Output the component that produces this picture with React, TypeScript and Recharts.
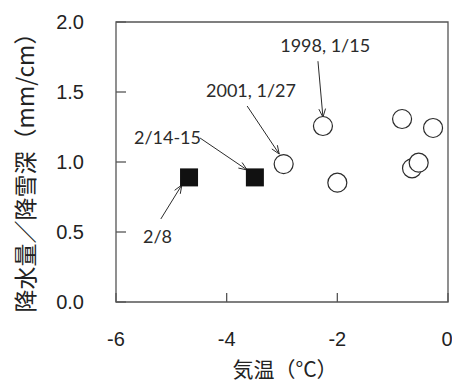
import React from "react";
import {
  ScatterChart,
  Scatter,
  XAxis,
  YAxis,
  ReferenceArea,
  ReferenceLine,
  ReferenceDot,
} from "recharts";

// 気温 (°C) vs 降水量/降雪深 (mm/cm)
const closedTemp = [-4.68, -3.49];
const closedRatio = [0.89, 0.89];

const openTemp = [-2.97, -2.26, -2.0, -0.83, -0.27, -0.65, -0.53];
const openRatio = [0.985, 1.257, 0.852, 1.307, 1.243, 0.955, 0.995];

const xTicks = [-6, -4, -2, 0];
const yTicks = [0, 0.5, 1.0, 1.5, 2.0];

// annotation labels (data coords of text centre)
const noteText = ["1998, 1/15", "2001, 1/27", "2/14-15", "2/8"];
const noteX = [-2.22, -3.56, -5.07, -5.25];
const noteY = [1.839, 1.511, 1.179, 0.471];

// arrows: from -> to
const arrowFrom = [
  { x: -2.35, y: 1.72 },
  { x: -3.63, y: 1.4 },
  { x: -4.48, y: 1.171 },
  { x: -5.19, y: 0.593 },
];
const arrowTo = [
  { x: -2.26, y: 1.32 },
  { x: -3.05, y: 1.057 },
  { x: -3.63, y: 0.943 },
  { x: -4.81, y: 0.836 },
];

const closedData = closedTemp.map((t, i) => ({ t, r: closedRatio[i] }));
const openData = openTemp.map((t, i) => ({ t, r: openRatio[i] }));

const INK = "#2b2b2b";
const FRAME = "#555";

const Square = (p: any) => (
  <rect x={p.cx - 9} y={p.cy - 9} width={18} height={18} fill="#111" />
);

const Ring = (p: any) => (
  <circle cx={p.cx} cy={p.cy} r={9.5} fill="#fff" stroke={INK} strokeWidth={1.2} />
);

const Arrow = (p: any) => {
  const { x1, y1, x2, y2 } = p;
  if ([x1, y1, x2, y2].some((v) => v == null || isNaN(v))) return null;
  const a = Math.atan2(y2 - y1, x2 - x1);
  const L = 9;
  const s = 0.38;
  return (
    <g stroke={INK} strokeWidth={1} fill="none">
      <line x1={x1} y1={y1} x2={x2} y2={y2} />
      <path
        d={`M${x2 - L * Math.cos(a - s)},${y2 - L * Math.sin(a - s)} L${x2},${y2} L${
          x2 - L * Math.cos(a + s)
        },${y2 - L * Math.sin(a + s)}`}
      />
    </g>
  );
};

const noteShape = (text: string) => (p: any) => (
  <text
    x={p.cx}
    y={p.cy}
    textAnchor="middle"
    dominantBaseline="central"
    fontFamily="Lato"
    fontSize={18}
    fill={INK}
  >
    {text}
  </text>
);

export default function App() {
  return (
    <div style={{ position: "absolute", left: 0, top: 0, background: "#fff" }}>
      <ScatterChart
        width={452}
        height={383}
        margin={{ top: 22, right: 4, bottom: 0, left: 0 }}
      >
        <XAxis
          type="number"
          dataKey="t"
          domain={[-6, 0]}
          ticks={xTicks}
          axisLine={false}
          tickSize={-9}
          tickMargin={39}
          tickLine={{ stroke: FRAME, strokeWidth: 1.3 }}
          tick={{ fill: "#222", fontSize: 20, fontFamily: "Liberation Sans" }}
          height={81}
          label={{
            content: ({ viewBox }: any) => (
              <text
                x={viewBox.x + viewBox.width / 2 + 3}
                y={viewBox.y + 66}
                textAnchor="middle"
                dominantBaseline="central"
                fontFamily="Noto Sans CJK JP"
                fontSize={21}
                fill="#222"
              >
                気温（°C）
              </text>
            ),
          }}
        />
        <YAxis
          type="number"
          dataKey="r"
          domain={[0, 2]}
          ticks={yTicks}
          tickFormatter={(v: number) => v.toFixed(1)}
          axisLine={false}
          tickSize={-10}
          tickMargin={42}
          tickLine={{ stroke: FRAME, strokeWidth: 1.3 }}
          tick={{ fill: "#222", fontSize: 20, fontFamily: "Liberation Sans" }}
          width={116}
          label={{
            content: ({ viewBox }: any) => {
              const cx = viewBox.x + 24;
              const cy = viewBox.y + viewBox.height / 2 + 5;
              return (
                <text
                  x={cx}
                  y={cy}
                  transform={`rotate(-90 ${cx} ${cy})`}
                  textAnchor="middle"
                  dominantBaseline="central"
                  fontFamily="Noto Sans CJK JP"
                  fontSize={23}
                  fill="#222"
                >
                  降水量／降雪深（mm/cm）
                </text>
              );
            },
          }}
        />
        <ReferenceArea
          x1={-6}
          x2={0}
          y1={0}
          y2={2}
          fill="none"
          fillOpacity={0}
          stroke={FRAME}
          strokeWidth={1.3}
          ifOverflow="visible"
        />
        {arrowFrom.map((f, i) => (
          <ReferenceLine
            key={`arrow-${i}`}
            segment={[f, arrowTo[i]]}
            ifOverflow="visible"
            shape={Arrow}
          />
        ))}
        {noteText.map((txt, i) => (
          <ReferenceDot
            key={`note-${i}`}
            x={noteX[i]}
            y={noteY[i]}
            r={0}
            ifOverflow="visible"
            shape={noteShape(txt)}
          />
        ))}
        <Scatter data={closedData} shape={Square} isAnimationActive={false} />
        <Scatter data={openData} shape={Ring} isAnimationActive={false} />
      </ScatterChart>
    </div>
  );
}
